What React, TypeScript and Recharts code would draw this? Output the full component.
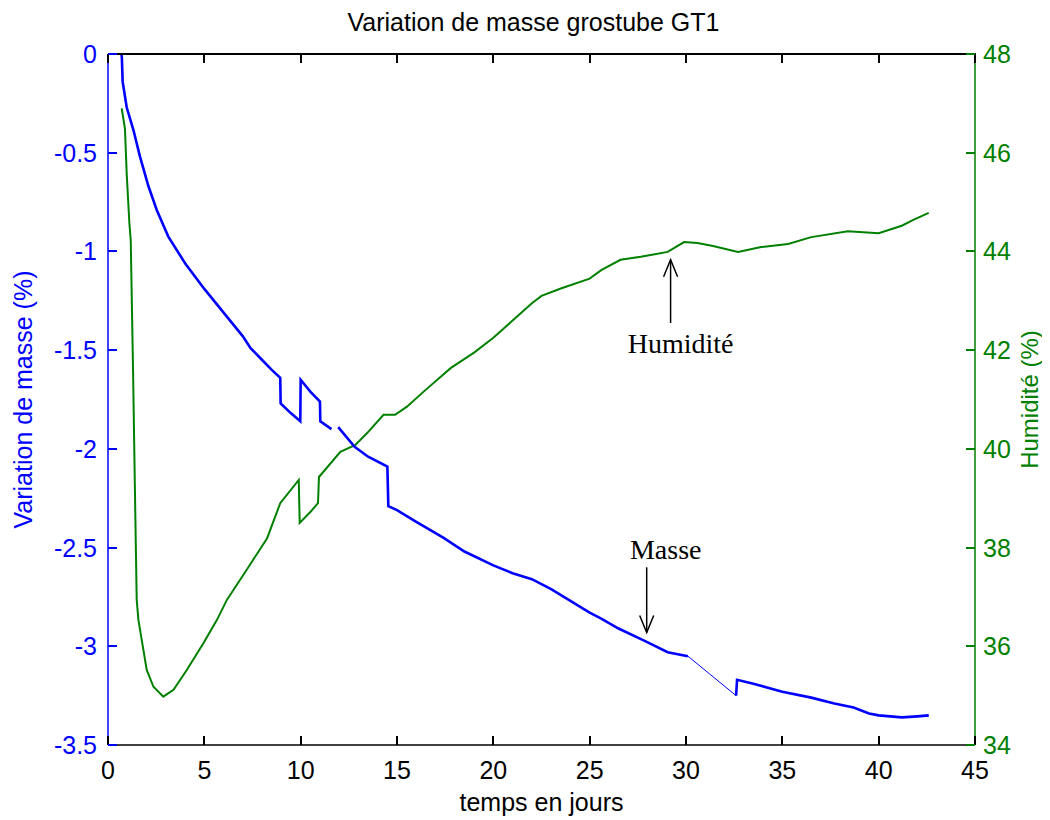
import React from 'react';
import { LineChart, Line, XAxis, YAxis, ReferenceLine } from 'recharts';

// ---- axes ----
const dayDomain = [0, 45];
const dayTicks = [0, 5, 10, 15, 20, 25, 30, 35, 40, 45];
const massDomain = [-3.5, 0];
const massTicks = [-3.5, -3, -2.5, -2, -1.5, -1, -0.5, 0];
const humidityDomain = [34, 48];
const humidityTicks = [34, 36, 38, 40, 42, 44, 46, 48];

// ---- Masse (variation de masse, %) ----
const massDaysA = [0.7, 0.72, 0.76, 0.97, 1.32, 1.66, 2.1, 2.53, 3.13, 4, 5, 6, 7, 7.4, 8, 8.5, 8.94, 8.96, 9.5, 9.98, 10.0, 10.5, 11.0, 11.02, 11.6];
const massValsA = [0, -0.02, -0.14, -0.27, -0.385, -0.52, -0.67, -0.79, -0.925, -1.06, -1.19, -1.31, -1.43, -1.49, -1.55, -1.6, -1.64, -1.77, -1.82, -1.86, -1.65, -1.71, -1.76, -1.86, -1.9];
const massDaysB = [11.95, 12.8, 13.5, 14.5, 14.55, 15, 16, 17.4, 18.5, 20, 21, 22, 23, 24, 25, 25.6, 26.5, 27.8, 29.05, 30.1];
const massValsB = [-1.89, -1.99, -2.04, -2.09, -2.29, -2.31, -2.37, -2.45, -2.52, -2.59, -2.63, -2.66, -2.71, -2.77, -2.83, -2.86, -2.91, -2.97, -3.03, -3.05];
const massDaysGap = [30.1, 32.6];
const massValsGap = [-3.05, -3.25];
const massDaysC = [32.6, 32.65, 33.5, 35.0, 36.5, 37.7, 38.7, 39.5, 40, 41.2, 42, 42.6];
const massValsC = [-3.25, -3.17, -3.19, -3.23, -3.26, -3.29, -3.31, -3.34, -3.35, -3.36, -3.355, -3.35];

// ---- Humidité (%) ----
const humDays = [0.71, 0.88, 0.97, 1.11, 1.18, 1.3, 1.4, 1.49, 1.58, 1.75, 2.01, 2.36, 2.87, 3.4, 4.09, 4.95, 5.65, 6.17, 7.2, 8.26, 8.94, 9.9, 9.95, 10.5, 10.9, 10.95, 12.06, 12.84, 13.45, 14.3, 14.9, 15.5, 16.5, 17.8, 19, 20, 21, 22, 22.5, 23.5, 25, 25.6, 26.6, 27.65, 29.05, 29.9, 30.6, 31.4, 32.7, 33.9, 35.3, 36.5, 38.4, 40, 41.2, 41.8, 42.6];
const humVals = [46.9, 46.49, 45.58, 44.57, 44.23, 41.6, 39.1, 36.94, 36.53, 36.13, 35.52, 35.18, 34.98, 35.12, 35.52, 36.06, 36.53, 36.94, 37.55, 38.19, 38.9, 39.37, 38.5, 38.72, 38.9, 39.43, 39.94, 40.08, 40.32, 40.69, 40.69, 40.85, 41.2, 41.64, 41.95, 42.25, 42.6, 42.95, 43.1, 43.25, 43.45, 43.62, 43.83, 43.89, 43.99, 44.19, 44.17, 44.11, 43.99, 44.09, 44.15, 44.29, 44.41, 44.37, 44.52, 44.64, 44.78];

// ---- annotation anchors (data units) ----
const humArrowDay = 29.2;
const humArrowFrom = 42.55;
const humArrowTo = 43.83;
const massArrowDay = 27.96;
const massArrowFrom = -2.6;
const massArrowTo = -2.93;

const toPoints = (xs: number[], ys: number[]) => xs.map((x, i) => ({ x, y: ys[i] }));

const massA = toPoints(massDaysA, massValsA);
const massB = toPoints(massDaysB, massValsB);
const massGap = toPoints(massDaysGap, massValsGap);
const massC = toPoints(massDaysC, massValsC);
const humidity = toPoints(humDays, humVals);

const SANS = '"Liberation Sans", Arial, Helvetica, sans-serif';
const SERIF = '"Liberation Serif", "Times New Roman", serif';
const BLUE = '#0000ff';
const GREEN = '#008000';
const TICK_LEN = 9;
const FS = 25;
const W = 1050;
const H = 820;
const LEFT_W = 108;
const RIGHT_W = 75;
const TOP_H = 54;
const BOTTOM_H = 75;
const PLOT_L = LEFT_W;
const PLOT_R = W - RIGHT_W;
const PLOT_T = TOP_H;
const PLOT_B = H - BOTTOM_H;

const frac = (v: number, d: number[]) => (v - d[0]) / (d[1] - d[0]);

const makeArrow = (label: string, textDx: number, textDy: number) => (props: any) => {
  const { x1, y1, x2, y2 } = props;
  const dir = y2 > y1 ? 1 : -1;
  return (
    <g>
      <line x1={x1} y1={y1} x2={x2} y2={y2} stroke="#000" strokeWidth={1.5} />
      <polyline
        points={`${x2 - 7},${y2 - dir * 17} ${x2},${y2} ${x2 + 7},${y2 - dir * 17}`}
        fill="none"
        stroke="#000"
        strokeWidth={1.5}
      />
      <text x={x1 + textDx} y={y1 + textDy} textAnchor="middle" fontFamily={SERIF} fontSize={28} fill="#000">
        {label}
      </text>
    </g>
  );
};

const BOTTOM_M = 16;
const LEFT_M = 11;
const RIGHT_M = 8;

const BottomTick = (props: any) => {
  const { x, y, payload } = props;
  return (
    <text x={x} y={y + 18} textAnchor="middle" fontFamily={SANS} fontSize={FS} fill="#000">
      {payload.value}
    </text>
  );
};

const LeftTick = (props: any) => {
  const { x, y, payload } = props;
  return (
    <text x={x} y={y} dy="0.36em" textAnchor="end" fontFamily={SANS} fontSize={FS} fill={BLUE}>
      {payload.value}
    </text>
  );
};

const RightTick = (props: any) => {
  const { x, y, payload } = props;
  return (
    <text x={x} y={y} dy="0.36em" textAnchor="start" fontFamily={SANS} fontSize={FS} fill={GREEN}>
      {payload.value}
    </text>
  );
};

const xLabel = (props: any) => {
  const vb = props.viewBox || {};
  return (
    <text x={Number(vb.x) + Number(vb.width) / 2} y={811} textAnchor="middle" fontFamily={SANS} fontSize={FS} fill="#000">
      temps en jours
    </text>
  );
};

const leftLabel = (props: any) => {
  const vb = props.viewBox || {};
  const cx = 23;
  const cy = Number(vb.y) + Number(vb.height) / 2;
  return (
    <text
      x={cx}
      y={cy}
      transform={`rotate(-90 ${cx} ${cy})`}
      textAnchor="middle"
      dominantBaseline="central"
      fontFamily={SANS}
      fontSize={FS}
      fill={BLUE}
    >
      Variation de masse (%)
    </text>
  );
};

const rightLabel = (props: any) => {
  const vb = props.viewBox || {};
  const cx = PLOT_R + 54;
  const cy = Number(vb.y) + Number(vb.height) / 2;
  return (
    <g>
      <text x={(PLOT_L + PLOT_R) / 2 - 8} y={31} textAnchor="middle" fontFamily={SANS} fontSize={FS} fill="#000">
        Variation de masse grostube GT1
      </text>
      <text
        x={cx}
        y={cy}
        transform={`rotate(-90 ${cx} ${cy})`}
        textAnchor="middle"
        dominantBaseline="central"
        fontFamily={SANS}
        fontSize={24}
        fill={GREEN}
      >
        Humidité (%)
      </text>
    </g>
  );
};

// frame overlay: top border and inward tick marks on all four sides
const box = (left: number, top: number, width: number, height: number, color: string, key: string) => (
  <div key={key} style={{ position: 'absolute', left, top, width, height, background: color, pointerEvents: 'none' }} />
);

function FrameOverlay() {
  const pw = PLOT_R - PLOT_L;
  const ph = PLOT_B - PLOT_T;
  const items: any[] = [];
  items.push(box(PLOT_L, PLOT_T - 1, pw + 1, 2, '#000', 'top'));
  dayTicks.forEach((t) => {
    const tx = Math.round(PLOT_L + pw * frac(t, dayDomain));
    items.push(box(tx - 1, PLOT_T, 2, TICK_LEN, '#000', 'tt' + t));
    items.push(box(tx - 1, PLOT_B - TICK_LEN, 2, TICK_LEN, '#000', 'bt' + t));
  });
  massTicks.forEach((t) => {
    const ty = Math.round(PLOT_B - ph * frac(t, massDomain));
    items.push(box(PLOT_L, ty - 1, TICK_LEN, 2, BLUE, 'lt' + t));
  });
  humidityTicks.forEach((t) => {
    const ty = Math.round(PLOT_B - ph * frac(t, humidityDomain));
    items.push(box(PLOT_R - TICK_LEN, ty - 1, TICK_LEN, 2, GREEN, 'rt' + t));
  });
  return <>{items}</>;
}

export default function App() {
  return (
    <div style={{ position: 'relative', width: W, height: H, margin: '-8px 0 0 -8px', background: '#fff' }}>
      <style>{'html,body{overflow:hidden}'}</style>
      <LineChart width={W} height={H} margin={{ top: TOP_H, right: 0, bottom: 0, left: 0 }}>
        <XAxis
          xAxisId="bottom"
          type="number"
          dataKey="x"
          orientation="bottom"
          domain={dayDomain}
          ticks={dayTicks}
          interval={0}
          allowDataOverflow
          height={BOTTOM_H}
          tickSize={0}
          tickLine={false}
          tickMargin={BOTTOM_M}
          stroke="#000"
          strokeWidth={1.5}
          tick={BottomTick}
          label={xLabel}
        />
        <YAxis
          yAxisId="left"
          type="number"
          orientation="left"
          domain={massDomain}
          ticks={massTicks}
          interval={0}
          allowDataOverflow
          width={LEFT_W}
          tickSize={0}
          tickLine={false}
          tickMargin={LEFT_M}
          stroke={BLUE}
          strokeWidth={1.5}
          tick={LeftTick}
          label={leftLabel}
        />
        <YAxis
          yAxisId="right"
          type="number"
          orientation="right"
          domain={humidityDomain}
          ticks={humidityTicks}
          interval={0}
          allowDataOverflow
          width={RIGHT_W}
          tickSize={0}
          tickLine={false}
          tickMargin={RIGHT_M}
          stroke={GREEN}
          strokeWidth={1.5}
          tick={RightTick}
          label={rightLabel}
        />
        <Line xAxisId="bottom" yAxisId="right" data={humidity} dataKey="y" type="linear" stroke={GREEN} strokeWidth={2} dot={false} activeDot={false} isAnimationActive={false} />
        <Line xAxisId="bottom" yAxisId="left" data={massA} dataKey="y" type="linear" stroke={BLUE} strokeWidth={2.6} dot={false} activeDot={false} isAnimationActive={false} />
        <Line xAxisId="bottom" yAxisId="left" data={massB} dataKey="y" type="linear" stroke={BLUE} strokeWidth={2.6} dot={false} activeDot={false} isAnimationActive={false} />
        <Line xAxisId="bottom" yAxisId="left" data={massGap} dataKey="y" type="linear" stroke={BLUE} strokeWidth={1} dot={false} activeDot={false} isAnimationActive={false} />
        <Line xAxisId="bottom" yAxisId="left" data={massC} dataKey="y" type="linear" stroke={BLUE} strokeWidth={2.6} dot={false} activeDot={false} isAnimationActive={false} />
        <ReferenceLine
          xAxisId="bottom"
          yAxisId="right"
          segment={[{ x: humArrowDay, y: humArrowFrom }, { x: humArrowDay, y: humArrowTo }]}
          ifOverflow="visible"
          shape={makeArrow('Humidité', 10, 30)}
        />
        <ReferenceLine
          xAxisId="bottom"
          yAxisId="left"
          segment={[{ x: massArrowDay, y: massArrowFrom }, { x: massArrowDay, y: massArrowTo }]}
          ifOverflow="visible"
          shape={makeArrow('Masse', 19, -8)}
        />
      </LineChart>
      <FrameOverlay />
    </div>
  );
}
